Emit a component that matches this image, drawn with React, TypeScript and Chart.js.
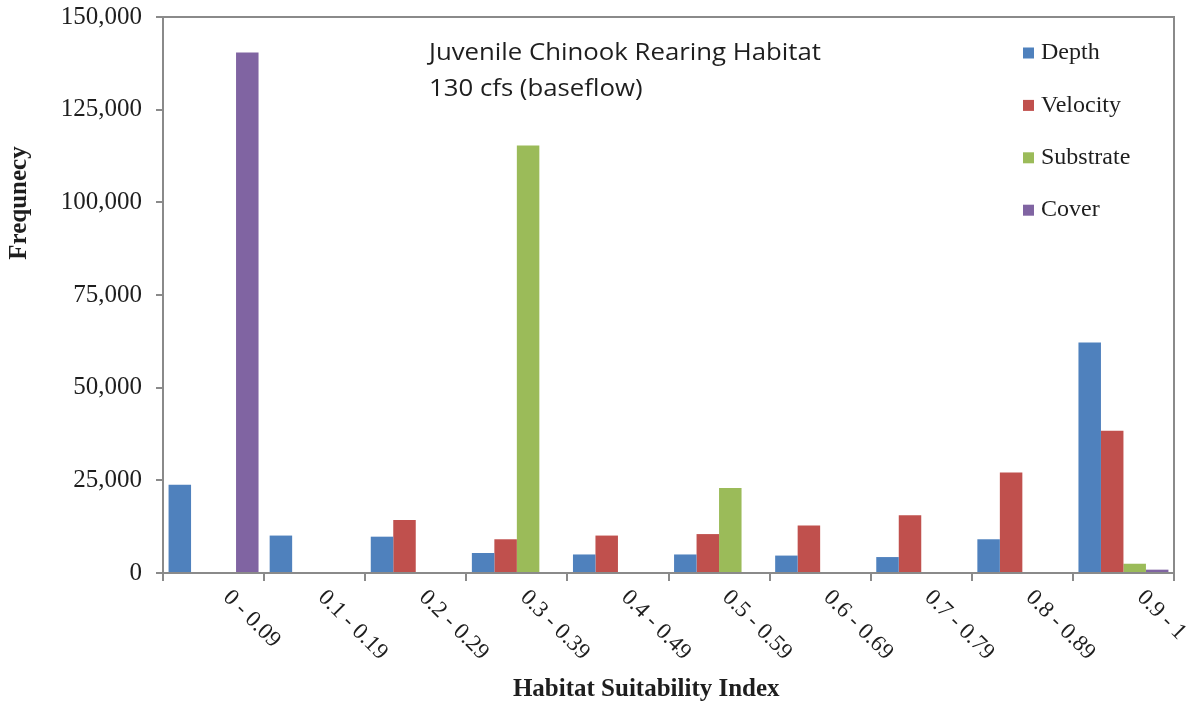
import React, { useEffect, useRef } from "react";
import { Chart, registerables } from "chart.js";

Chart.register(...registerables);

const categories = [
  "0 - 0.09",
  "0.1 - 0.19",
  "0.2 - 0.29",
  "0.3 - 0.39",
  "0.4 - 0.49",
  "0.5 - 0.59",
  "0.6 - 0.69",
  "0.7 - 0.79",
  "0.8 - 0.89",
  "0.9 - 1",
];
const depth = [23800, 10100, 9800, 5400, 5000, 5000, 4700, 4300, 9100, 62200];
const velocity = [0, 0, 14300, 9100, 10100, 10500, 12800, 15600, 27100, 38400];
const substrate = [0, 0, 0, 115300, 0, 22900, 0, 0, 0, 2500];
const cover = [140400, 0, 0, 0, 0, 0, 0, 0, 0, 900];
const seriesNames = ["Depth", "Velocity", "Substrate", "Cover"];
const seriesColors = ["#4F81BD", "#C0504D", "#9BBB59", "#8064A2"];
const yMin = 0;
const yMax = 150000;
const yStep = 25000;
const titleLines = ["Juvenile Chinook Rearing Habitat", "130 cfs (baseflow)"];
const xTitle = "Habitat Suitability Index";
const yTitle = "Frequnecy";

const AXIS = "#8a8a8a";
const TEXT = "#1e1e1e";
const SERIF = '"Liberation Serif", "Times New Roman", serif';
const SANS = '"Open Sans", "Noto Sans", sans-serif';

const overlayPlugin = {
  id: "overlay",
  afterDraw(chart: any) {
    const { ctx, chartArea } = chart;
    const xScale = chart.scales.x;
    ctx.save();

    // plot-area frame (top and right)
    ctx.strokeStyle = AXIS;
    ctx.lineWidth = 2;
    ctx.beginPath();
    ctx.moveTo(chartArea.left, chartArea.top);
    ctx.lineTo(chartArea.right, chartArea.top);
    ctx.lineTo(chartArea.right, chartArea.bottom);
    ctx.stroke();

    // rotated category labels
    ctx.fillStyle = TEXT;
    ctx.font = `23px ${SERIF}`;
    ctx.textAlign = "left";
    ctx.textBaseline = "middle";
    categories.forEach((lab, i) => {
      const cx = xScale.getPixelForTick(i);
      const w = ctx.measureText(lab).width;
      const ax = cx + 38 - (w * Math.SQRT1_2) / 2;
      const ay = chartArea.bottom + 21;
      ctx.save();
      ctx.translate(ax, ay);
      ctx.rotate(Math.PI / 4);
      ctx.fillText(lab, 0, 0);
      ctx.restore();
    });

    // chart title inside plot (horizontally stretched like the source)
    ctx.font = `23px ${SANS}`;
    ctx.textBaseline = "alphabetic";
    ctx.textAlign = "left";
    titleLines.forEach((t, i) => {
      ctx.save();
      ctx.translate(chartArea.left + 266, chartArea.top + 43 + i * 36);
      ctx.scale(1.12, 1);
      ctx.fillText(t, 0, 0);
      ctx.restore();
    });

    // legend inside plot
    ctx.font = `24px ${SERIF}`;
    ctx.textBaseline = "middle";
    chart.data.datasets.forEach((ds: any, i: number) => {
      const y = chartArea.top + 36 + i * 52.4;
      const x = chartArea.right - 151;
      ctx.fillStyle = ds.backgroundColor;
      ctx.fillRect(x, y - 5.5, 11, 11);
      ctx.fillStyle = TEXT;
      ctx.fillText(ds.label, x + 18, y);
    });

    // axis titles
    ctx.font = `bold 25px ${SERIF}`;
    ctx.textAlign = "center";
    ctx.textBaseline = "middle";
    ctx.fillText(xTitle, chartArea.left + chartArea.width * 0.478, chartArea.bottom + 117);
    ctx.save();
    ctx.translate(20, chartArea.top + 186);
    ctx.rotate(-Math.PI / 2);
    ctx.fillText(yTitle, 0, 0);
    ctx.restore();

    ctx.restore();
  },
};

export default function App() {
  const canvasRef = useRef<HTMLCanvasElement | null>(null);

  useEffect(() => {
    if (!canvasRef.current) return;
    const values = [depth, velocity, substrate, cover];
    const chart = new Chart(canvasRef.current, {
      type: "bar",
      data: {
        labels: categories,
        datasets: seriesNames.map((name, i) => ({
          label: name,
          data: values[i],
          backgroundColor: seriesColors[i],
          borderWidth: 0,
          categoryPercentage: 0.89,
          barPercentage: 1,
        })),
      },
      options: {
        animation: false,
        responsive: true,
        maintainAspectRatio: false,
        layout: { padding: { top: 17, right: 14, left: 0, bottom: 0 } },
        plugins: {
          legend: { display: false },
          tooltip: { enabled: false },
          title: { display: false },
        },
        scales: {
          x: {
            offset: true,
            grid: {
              display: true,
              offset: true,
              drawOnChartArea: false,
              drawTicks: true,
              tickLength: 8,
              color: AXIS,
              lineWidth: 2,
            },
            border: { display: true, color: AXIS, width: 2 },
            ticks: { display: false },
            afterFit: (s: any) => {
              s.height = 133;
            },
          },
          y: {
            min: yMin,
            max: yMax,
            grid: {
              display: true,
              drawOnChartArea: false,
              drawTicks: true,
              tickLength: 7,
              color: AXIS,
              lineWidth: 2,
            },
            border: { display: true, color: AXIS, width: 2 },
            ticks: {
              stepSize: yStep,
              padding: 14,
              color: TEXT,
              font: { family: SERIF, size: 25 },
              callback: (v: any) => Number(v).toLocaleString("en-US"),
            },
            afterFit: (s: any) => {
              s.width = 163;
              s.paddingTop = 0;
              s.paddingBottom = 0;
            },
          },
        },
      },
      plugins: [overlayPlugin],
    });
    return () => chart.destroy();
  }, []);

  return (
    <div style={{ position: "fixed", left: 0, top: 0, width: 1188, height: 706, background: "#fff" }}>
      <canvas ref={canvasRef} />
    </div>
  );
}
